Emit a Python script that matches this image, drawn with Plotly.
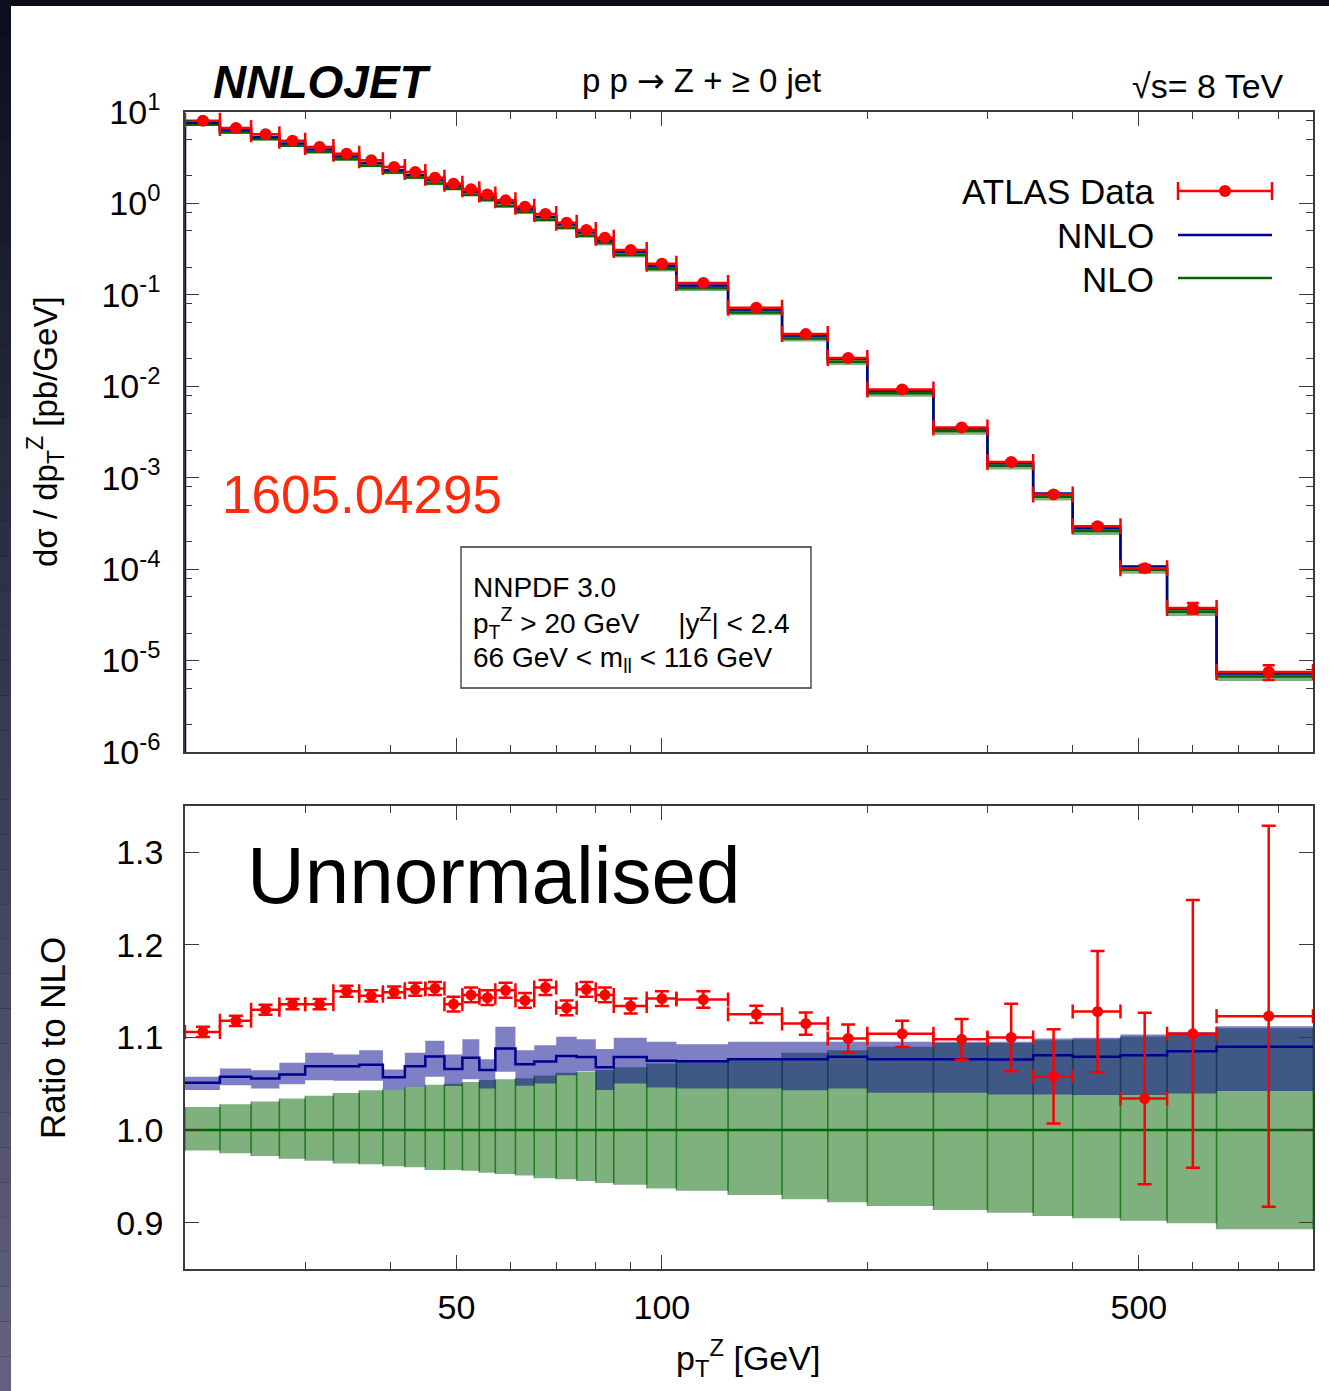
import plotly.graph_objects as go

# ---------------- data ----------------
edges = [20, 22.5, 25, 27.5, 30, 33, 36, 39, 42, 45, 48, 51, 54, 57, 61, 65, 70, 75,
         80, 85, 95, 105, 125, 150, 175, 200, 250, 300, 350, 400, 470, 550, 650, 900]

data_xsec = [8.03, 6.68, 5.70, 4.85, 4.14, 3.50, 2.96, 2.50, 2.21, 1.91, 1.64, 1.43,
             1.25, 1.08, 0.92, 0.766, 0.615, 0.512, 0.422, 0.309, 0.219, 0.1346,
             0.0723, 0.0372, 0.0204, 0.00925, 0.00355, 0.001483, 0.000657,
             0.000295, 0.000102, 3.77e-5, 7.5e-6]

data_ratio = [1.106, 1.118, 1.130, 1.136, 1.136, 1.150, 1.145, 1.149, 1.152, 1.153,
              1.136, 1.146, 1.143, 1.151, 1.140, 1.154, 1.132, 1.152, 1.146, 1.134,
              1.142, 1.141, 1.125, 1.115, 1.099, 1.104, 1.098, 1.100, 1.058, 1.128,
              1.034, 1.104, 1.123]

data_ratio_err = [0.0055, 0.0055, 0.0055, 0.0055, 0.0055, 0.006, 0.006, 0.006, 0.007,
                  0.007, 0.008, 0.008, 0.008, 0.008, 0.008, 0.008, 0.008, 0.008, 0.008,
                  0.008, 0.008, 0.0090, 0.0094, 0.0119, 0.0151, 0.0142, 0.0219, 0.0365,
                  0.0509, 0.0655, 0.0926, 0.1446, 0.2057]

nnlo_ratio = [1.051, 1.0575, 1.0557, 1.060, 1.069, 1.069, 1.0705, 1.057, 1.069, 1.0795,
              1.066, 1.078, 1.065, 1.088, 1.071, 1.074, 1.080, 1.079, 1.068, 1.079,
              1.075, 1.0744, 1.0766, 1.0766, 1.0791, 1.0766, 1.0766, 1.0762, 1.0809,
              1.0791, 1.0809, 1.0852, 1.0899]

nnlo_band_hi = [1.0575, 1.0665, 1.0647, 1.0726, 1.0834, 1.0816, 1.0863, 1.0654, 1.0834,
                1.0964, 1.0816, 1.0982, 1.0766, 1.1115, 1.0863, 1.0917, 1.1007, 1.0982,
                1.0877, 1.0996, 1.0953, 1.0928, 1.0953, 1.0953, 1.0953, 1.0953, 1.0953,
                1.0953, 1.0990, 1.0996, 1.1032, 1.1060, 1.1122]

nnlo_band_lo = [1.0432, 1.0485, 1.0450, 1.0496, 1.0539, 1.0532, 1.0532, 1.0439, 1.0468,
                1.0575, 1.0475, 1.0550, 1.0450, 1.0629, 1.0478, 1.0504, 1.0593, 1.0636,
                1.0432, 1.0504, 1.0460, 1.0450, 1.0450, 1.0431, 1.0450, 1.0403, 1.0403,
                1.0385, 1.0385, 1.0378, 1.0378, 1.0396, 1.0421]

nlo_ratio = [1.0] * len(data_xsec)

nlo_band_hi = [1.025, 1.028, 1.031, 1.034, 1.037, 1.040, 1.043, 1.044, 1.047, 1.049,
               1.050, 1.052, 1.054, 1.055, 1.056, 1.059, 1.062, 1.063, 1.065, 1.068,
               1.072, 1.0737, 1.0755, 1.0834, 1.0863, 1.0899, 1.094, 1.094, 1.097,
               1.098, 1.101, 1.104, 1.110]

nlo_band_lo = [0.978, 0.975, 0.972, 0.969, 0.967, 0.964, 0.963, 0.961, 0.960, 0.957,
               0.957, 0.956, 0.954, 0.9525, 0.951, 0.948, 0.947, 0.945, 0.943, 0.941,
               0.937, 0.9346, 0.9299, 0.9252, 0.922, 0.918, 0.9137, 0.9108, 0.9072,
               0.9047, 0.9022, 0.8993, 0.8929]

x_major = [50, 100, 500]
x_major_text = ["50", "100", "500"]
x_minor = [30, 40, 60, 70, 80, 90, 200, 300, 400, 600, 700, 800]
y_top_major = [1e-6, 1e-5, 1e-4, 1e-3, 1e-2, 1e-1, 1e0, 1e1]
y_top_text = ["10<sup>-6</sup>", "10<sup>-5</sup>", "10<sup>-4</sup>", "10<sup>-3</sup>",
              "10<sup>-2</sup>", "10<sup>-1</sup>", "10<sup>0</sup>", "10<sup>1</sup>"]
y_top_minor = [m * 10.0 ** e for e in range(-6, 1) for m in (2, 5, 8)]
y_bot_major = [0.9, 1.0, 1.1, 1.2, 1.3]
y_bot_text = ["0.9", "1.0", "1.1", "1.2", "1.3"]

# ---------------- derived (chart semantics) ----------------
n = len(data_xsec)
lo_edges = edges[:-1]
hi_edges = edges[1:]
centers = [(a + b) / 2 for a, b in zip(lo_edges, hi_edges)]
nlo_xsec = [d / r for d, r in zip(data_xsec, data_ratio)]
nnlo_xsec = [nl * r for nl, r in zip(nlo_xsec, nnlo_ratio)]
data_xsec_err = [d * e / r for d, e, r in zip(data_xsec, data_ratio_err, data_ratio)]
ex_plus = [b - c for b, c in zip(hi_edges, centers)]
ex_minus = [c - a for a, c in zip(lo_edges, centers)]

W, H = 1329, 1391
FONT = "Liberation Sans, Arial, Helvetica, sans-serif"
RED = "#ff0000"
NAVY = "#00008e"
GREEN = "#006400"
GREEN_FILL = "rgba(0,100,0,0.5)"
BLUE_FILL = "rgba(0,0,139,0.5)"
AX = "#3a3a3a"


def px(x):
    return x / W


def py(y):
    return 1 - y / H


def boxes(lo, hi, scale=None):
    xs, ys = [], []
    for i in range(n):
        a, b = lo_edges[i], hi_edges[i]
        l, h = lo[i], hi[i]
        if scale is not None:
            l, h = l * scale[i], h * scale[i]
        xs += [a, b, b, a, a, None]
        ys += [l, l, h, h, l, None]
    return xs, ys


def edge_lines(lo, hi, scale=None):
    xs, ys = [], []
    for i in range(n):
        l, h = lo[i], hi[i]
        if scale is not None:
            l, h = l * scale[i], h * scale[i]
        for e in (lo_edges[i], hi_edges[i]):
            xs += [e, e, None]
            ys += [l, h, None]
    return xs, ys


fig = go.Figure()

# ---------- top panel ----------
bx, by = boxes(nlo_band_lo, nlo_band_hi, nlo_xsec)
fig.add_trace(go.Scatter(x=bx, y=by, mode="lines", fill="toself", fillcolor=GREEN_FILL,
                         line=dict(width=0), hoverinfo="skip", xaxis="x", yaxis="y"))
fig.add_trace(go.Scatter(x=edges, y=nlo_xsec + [nlo_xsec[-1]], mode="lines",
                         line=dict(color=GREEN, width=2.5, shape="hv"),
                         xaxis="x", yaxis="y"))
bx, by = boxes(nnlo_band_lo, nnlo_band_hi, nlo_xsec)
fig.add_trace(go.Scatter(x=bx, y=by, mode="lines", fill="toself", fillcolor=BLUE_FILL,
                         line=dict(width=0), hoverinfo="skip", xaxis="x", yaxis="y"))
fig.add_trace(go.Scatter(x=[edges[0]] + edges, y=[1e-8] + nnlo_xsec + [nnlo_xsec[-1]],
                         mode="lines", line=dict(color=NAVY, width=2.5, shape="hv"),
                         xaxis="x", yaxis="y"))
fig.add_trace(go.Scatter(x=centers, y=data_xsec, mode="markers",
                         marker=dict(color=RED, size=12),
                         error_x=dict(type="data", symmetric=False, array=ex_plus,
                                      arrayminus=ex_minus, color=RED, thickness=2.5, width=8),
                         error_y=dict(type="data", array=data_xsec_err, color=RED,
                                      thickness=2.5, width=6),
                         xaxis="x", yaxis="y"))

# ---------- bottom panel ----------
bx, by = boxes(nlo_band_lo, nlo_band_hi)
fig.add_trace(go.Scatter(x=bx, y=by, mode="lines", fill="toself", fillcolor=GREEN_FILL,
                         line=dict(width=0), hoverinfo="skip", xaxis="x2", yaxis="y2"))
ex, ey = edge_lines(nlo_band_lo, nlo_band_hi)
fig.add_trace(go.Scatter(x=ex, y=ey, mode="lines",
                         line=dict(color="rgba(0,100,0,0.45)", width=1.5),
                         hoverinfo="skip", xaxis="x2", yaxis="y2"))
fig.add_trace(go.Scatter(x=edges, y=nlo_ratio + [nlo_ratio[-1]], mode="lines",
                         line=dict(color=GREEN, width=2.5, shape="hv"),
                         xaxis="x2", yaxis="y2"))
bx, by = boxes(nnlo_band_lo, nnlo_band_hi)
fig.add_trace(go.Scatter(x=bx, y=by, mode="lines", fill="toself", fillcolor=BLUE_FILL,
                         line=dict(width=0), hoverinfo="skip", xaxis="x2", yaxis="y2"))
fig.add_trace(go.Scatter(x=edges, y=nnlo_ratio + [nnlo_ratio[-1]], mode="lines",
                         line=dict(color=NAVY, width=2.5, shape="hv"),
                         xaxis="x2", yaxis="y2"))
fig.add_trace(go.Scatter(x=centers, y=data_ratio, mode="markers",
                         marker=dict(color=RED, size=11),
                         error_x=dict(type="data", symmetric=False, array=ex_plus,
                                      arrayminus=ex_minus, color=RED, thickness=2.5, width=7),
                         error_y=dict(type="data", array=data_ratio_err, color=RED,
                                      thickness=2.5, width=7),
                         xaxis="x2", yaxis="y2"))

# ---------- axes ----------
xdom = [px(185), px(1313)]
tickfont = dict(family=FONT, size=34, color="black")
common_x = dict(type="log", range=[1.30103, 2.95424], domain=xdom, showgrid=False,
                zeroline=False, showline=True, linecolor=AX, linewidth=1.5,
                mirror="allticks", ticks="inside", ticklen=14, tickwidth=1.2,
                tickcolor=AX, tickmode="array", tickvals=x_major, ticktext=x_major_text,
                minor=dict(tickmode="array", tickvals=x_minor, ticks="inside",
                           ticklen=7, tickwidth=1.2, tickcolor=AX, showgrid=False),
                tickfont=tickfont, automargin=False)

fig.update_layout(
    template="none",
    xaxis=dict(common_x, anchor="y", showticklabels=False),
    yaxis=dict(type="log", range=[-6, 1], domain=[py(752), py(112)], anchor="x",
               showgrid=False, zeroline=False, showline=True, linecolor=AX, linewidth=1.5,
               mirror="allticks", ticks="inside", ticklen=14, tickwidth=1.2, tickcolor=AX,
               tickmode="array", tickvals=y_top_major, ticktext=y_top_text,
               minor=dict(tickmode="array", tickvals=y_top_minor, ticks="inside",
                          ticklen=7, tickwidth=1.2, tickcolor=AX, showgrid=False),
               tickfont=tickfont, ticklabelstandoff=16, automargin=False),
    xaxis2=dict(common_x, anchor="y2", showticklabels=True, ticklabelstandoff=7),
    yaxis2=dict(range=[0.85, 1.35], domain=[py(1269), py(806)], anchor="x2",
                showgrid=False, zeroline=False, showline=True, linecolor=AX, linewidth=1.5,
                mirror="allticks", ticks="inside", ticklen=14, tickwidth=1.2, tickcolor=AX,
                tickmode="array", tickvals=y_bot_major, ticktext=y_bot_text,
                tickfont=tickfont, ticklabelstandoff=13, automargin=False),
)

# ---------- background frame ----------
shapes = [dict(type="rect", xref="paper", yref="paper", x0=0, x1=1, y0=0, y1=1,
               fillcolor="#0c0e1e", line=dict(width=0), layer="below")]
top_c = (11, 13, 29)
bot_c = (100, 98, 128)
N = 40
for k in range(N):
    t = (k + 0.5) / N
    c = tuple(int(round(bot_c[j] * (1 - t) + top_c[j] * t)) for j in range(3))
    shapes.append(dict(type="rect", xref="paper", yref="paper", x0=0, x1=px(12),
                       y0=k / N, y1=(k + 1) / N, fillcolor="rgb(%d,%d,%d)" % c,
                       line=dict(width=0), layer="below"))
shapes.append(dict(type="rect", xref="paper", yref="paper", x0=px(11), x1=1,
                   y0=0, y1=py(6), fillcolor="white", line=dict(width=0), layer="below"))

# info box
shapes.append(dict(type="rect", xref="paper", yref="paper", x0=px(461), x1=px(811),
                   y0=py(688), y1=py(547), line=dict(color="#333333", width=1.3),
                   fillcolor="rgba(0,0,0,0)"))

# legend samples
lx0, lx1 = px(1178), px(1272)
shapes += [
    dict(type="line", xref="paper", yref="paper", x0=lx0, x1=lx1, y0=py(191), y1=py(191),
         line=dict(color=RED, width=2.5)),
    dict(type="line", xref="paper", yref="paper", x0=lx0, x1=lx0, y0=py(182), y1=py(200),
         line=dict(color=RED, width=2.5)),
    dict(type="line", xref="paper", yref="paper", x0=lx1, x1=lx1, y0=py(182), y1=py(200),
         line=dict(color=RED, width=2.5)),
    dict(type="circle", xref="paper", yref="paper", x0=px(1219), x1=px(1231),
         y0=py(197), y1=py(185), fillcolor=RED, line=dict(color=RED, width=0)),
    dict(type="line", xref="paper", yref="paper", x0=lx0, x1=lx1, y0=py(235), y1=py(235),
         line=dict(color=NAVY, width=2.5)),
    dict(type="line", xref="paper", yref="paper", x0=lx0, x1=lx1, y0=py(278), y1=py(278),
         line=dict(color=GREEN, width=2.5)),
]


def ann(text, x, y, size, xanchor="left", color="black", angle=0, yanchor="middle"):
    return dict(text=text, x=px(x), y=py(y), xref="paper", yref="paper", showarrow=False,
                xanchor=xanchor, yanchor=yanchor, textangle=angle,
                font=dict(family=FONT, size=size, color=color))


ARROW = "<span style=\"font-family:'DejaVu Sans'\">→</span>"
annotations = [
    ann("<b><i>NNLOJET</i></b>", 211, 82, 46),
    ann("p p " + ARROW + " Z + ≥ 0 jet", 701, 80, 33, xanchor="center"),
    ann("√s= 8 TeV", 1286, 86, 34, xanchor="right"),
    ann("ATLAS Data", 1156, 192, 35, xanchor="right"),
    ann("NNLO", 1156, 235, 35, xanchor="right"),
    ann("NLO", 1156, 279, 35, xanchor="right"),
    ann("1605.04295", 220, 494, 53, color="#ff2a0a"),
    ann("NNPDF 3.0", 471, 587, 28),
    ann("p<sub>T</sub><sup>Z</sup> > 20 GeV     |y<sup>Z</sup>| < 2.4", 471, 623, 28),
    ann("66 GeV < m<sub>ll</sub> < 116 GeV", 471, 659, 28),
    ann("Unnormalised", 245, 875, 80),
    ann("dσ / dp<sub>T</sub><sup>Z</sup> [pb/GeV]", 46, 432, 33, xanchor="center", angle=-90),
    ann("Ratio to NLO", 52, 1038, 35, xanchor="center", angle=-90),
    ann("p<sub>T</sub><sup>Z</sup> [GeV]", 748, 1358, 34, xanchor="center"),
]

fig.update_layout(
    width=W, height=H, margin=dict(l=0, r=0, t=0, b=0, pad=0, autoexpand=False),
    paper_bgcolor="#0c0e1e", plot_bgcolor="rgba(0,0,0,0)",
    showlegend=False, shapes=shapes, annotations=annotations,
    font=dict(family=FONT, color="black"),
)

fig.write_html("out.html", config={"displayModeBar": False})
